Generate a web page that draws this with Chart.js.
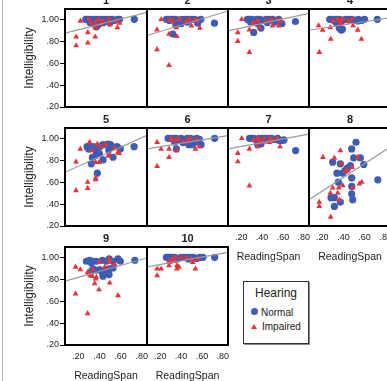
<!DOCTYPE html>
<html>
<head>
<meta charset="utf-8">
<script src="https://cdn.jsdelivr.net/npm/chart.js@4.4.1/dist/chart.umd.min.js"></script>
<style>
  body { margin: 0; width: 387px; height: 381px; overflow: hidden; background: #fff; position: relative;
         font-family: "Liberation Sans", Arial, sans-serif; color: #222; }
  canvas, .txt { position: absolute; }
  .txt { white-space: nowrap; }
  .ttl { font-weight: bold; font-size: 11px; line-height: 13px; width: 40px; text-align: center; }
  .ytitle { font-size: 12px; line-height: 14px; width: 100px; text-align: center; transform: rotate(-90deg); }
  .xtitle { font-size: 10.5px; line-height: 12px; width: 80px; text-align: center; }
  #edge { position: absolute; left: 2px; top: 0; width: 1px; height: 381px; background: #b0b0b0; }
  #legend { position: absolute; left: 243px; top: 281px; width: 64px; height: 61px; border: 1px solid #333; box-shadow: 1px 1px 0 #888; }
  #legend div, #legend span { position: absolute; }
</style>
</head>
<body>
<div id="edge"></div>
<div id="legend">
  <div style="left:0;right:0;top:4px;text-align:center;font-size:12px;line-height:14px">Hearing</div>
  <span style="left:7px;top:26px;width:7px;height:7px;border-radius:50%;background:#3d5cb4"></span>
  <div style="left:17px;top:25px;font-size:10px;line-height:12px">Normal</div>
  <span style="left:7px;top:42px;width:0;height:0;border-left:3px solid transparent;border-right:3px solid transparent;border-bottom:5px solid #e8333d"></span>
  <div style="left:18px;top:39px;font-size:10px;line-height:12px">Impaired</div>
</div>
<script>
const panelNames = ['1', '2', '3', '4', '5', '6', '7', '8', '9', '10'];
const xTicks = [0.2, 0.4, 0.6, 0.8];
const yTicks = [0.2, 0.4, 0.6, 0.8, 1.0];

// Hearing = Normal, [ReadingSpan, Intelligibility] per panel
const normal = [
  [[0.27,1.00],[0.29,1.00],[0.31,1.00],[0.33,0.99],[0.35,1.00],[0.38,1.00],[0.40,0.99],[0.42,1.00],[0.45,1.00],[0.47,0.99],[0.49,1.00],[0.52,1.00],[0.54,0.99],[0.57,1.00],[0.59,1.00],[0.73,1.00],[0.34,0.96],[0.37,0.93],[0.39,0.95],[0.31,0.97],[0.44,0.97],[0.50,0.97]],
  [[0.26,1.00],[0.28,1.00],[0.30,1.00],[0.32,1.00],[0.35,1.00],[0.38,0.99],[0.41,1.00],[0.44,1.00],[0.47,1.00],[0.50,1.00],[0.53,1.00],[0.56,0.99],[0.59,1.00],[0.72,0.965],[0.56,0.965],[0.32,0.865],[0.35,0.95],[0.29,0.99],[0.36,0.985],[0.40,0.96],[0.46,0.975]],
  [[0.26,1.00],[0.28,1.00],[0.30,1.00],[0.32,0.99],[0.35,1.00],[0.38,1.00],[0.41,0.99],[0.44,1.00],[0.47,1.00],[0.50,1.00],[0.53,0.99],[0.56,1.00],[0.59,0.96],[0.72,0.98],[0.32,0.88],[0.39,0.92],[0.36,0.96],[0.45,0.97],[0.52,0.975],[0.29,0.975]],
  [[0.27,1.00],[0.29,1.00],[0.31,0.99],[0.33,1.00],[0.36,1.00],[0.39,0.99],[0.42,1.00],[0.45,1.00],[0.48,1.00],[0.51,0.99],[0.54,1.00],[0.57,0.99],[0.60,1.00],[0.72,1.00],[0.36,0.92],[0.38,0.90],[0.39,0.91],[0.535,0.985],[0.447,0.994],[0.33,0.97]],
  [[0.282,0.924],[0.31,0.93],[0.345,0.924],[0.371,0.888],[0.377,0.864],[0.333,0.827],[0.323,0.767],[0.364,0.842],[0.434,0.803],[0.434,0.942],[0.481,0.948],[0.504,0.942],[0.52,0.924],[0.529,0.827],[0.567,0.924],[0.598,0.903],[0.488,0.894],[0.728,0.924],[0.38,0.682],[0.402,0.924],[0.30,0.90],[0.40,0.86]],
  [[0.276,1.00],[0.29,1.00],[0.31,0.995],[0.33,1.00],[0.35,1.00],[0.37,0.99],[0.40,1.00],[0.43,0.99],[0.46,1.00],[0.49,1.00],[0.52,0.99],[0.55,1.00],[0.576,0.99],[0.722,1.00],[0.355,0.903],[0.475,0.942],[0.507,0.942],[0.592,0.942],[0.545,0.964],[0.339,0.964],[0.386,0.985],[0.42,0.96]],
  [[0.28,1.00],[0.30,1.00],[0.32,1.00],[0.34,0.99],[0.37,1.00],[0.40,1.00],[0.43,1.00],[0.46,1.00],[0.49,1.00],[0.52,0.99],[0.55,1.00],[0.58,0.98],[0.61,0.985],[0.722,0.888],[0.358,0.942],[0.39,0.948],[0.564,0.979],[0.595,0.979],[0.36,0.985],[0.42,0.985]],
  [[0.519,0.964],[0.478,0.903],[0.497,0.821],[0.56,0.821],[0.592,0.761],[0.298,0.782],[0.371,0.767],[0.339,0.682],[0.393,0.682],[0.415,0.706],[0.44,0.73],[0.466,0.752],[0.352,0.60],[0.478,0.561],[0.478,0.639],[0.725,0.621],[0.282,0.458],[0.314,0.458],[0.371,0.418],[0.314,0.379],[0.478,0.494],[0.488,0.44],[0.43,0.72]],
  [[0.307,0.973],[0.276,0.964],[0.339,0.964],[0.323,0.95],[0.428,0.973],[0.466,0.964],[0.491,0.985],[0.529,0.964],[0.576,0.985],[0.598,0.964],[0.735,0.973],[0.371,0.964],[0.339,0.894],[0.323,0.873],[0.371,0.882],[0.402,0.888],[0.428,0.858],[0.466,0.888],[0.491,0.894],[0.529,0.903],[0.491,0.842],[0.434,0.827]],
  [[0.26,1.00],[0.28,1.00],[0.30,1.00],[0.32,1.00],[0.34,1.00],[0.37,0.99],[0.40,1.00],[0.43,1.00],[0.46,1.00],[0.49,1.00],[0.52,1.00],[0.55,0.99],[0.58,1.00],[0.61,1.00],[0.722,1.00],[0.30,0.98],[0.36,0.985],[0.47,0.985]]
];

// Hearing = Impaired
const impaired = [
  [[0.22,0.985],[0.30,1.00],[0.39,1.00],[0.49,1.00],[0.32,0.965],[0.36,0.925],[0.43,0.985],[0.50,0.95],[0.55,0.985],[0.57,0.925],[0.59,0.965],[0.29,0.88],[0.18,0.84],[0.36,0.84],[0.18,0.76],[0.29,0.785],[0.36,0.97],[0.41,0.95]],
  [[0.21,1.00],[0.17,0.905],[0.29,0.995],[0.32,0.985],[0.38,1.00],[0.39,1.00],[0.45,0.985],[0.48,1.00],[0.50,0.94],[0.54,1.00],[0.55,0.985],[0.58,0.92],[0.355,0.925],[0.285,0.865],[0.36,0.845],[0.17,0.725],[0.285,0.58]],
  [[0.206,1.00],[0.168,0.88],[0.168,0.80],[0.279,0.70],[0.279,0.905],[0.31,0.965],[0.358,0.985],[0.374,0.925],[0.437,0.985],[0.485,1.00],[0.50,0.94],[0.548,1.00],[0.557,0.94],[0.58,0.985],[0.32,0.965]],
  [[0.165,0.942],[0.203,0.903],[0.172,0.70],[0.28,0.82],[0.276,0.924],[0.298,0.985],[0.345,1.00],[0.371,0.985],[0.393,1.00],[0.447,0.98],[0.481,1.00],[0.491,0.942],[0.535,0.903],[0.57,0.82],[0.377,0.964]],
  [[0.307,0.964],[0.38,0.948],[0.219,0.903],[0.329,0.888],[0.459,0.942],[0.418,0.924],[0.497,0.852],[0.545,0.912],[0.576,0.873],[0.586,0.864],[0.178,0.785],[0.364,0.782],[0.396,0.782],[0.364,0.639],[0.364,0.624],[0.288,0.60],[0.288,0.545],[0.178,0.524],[0.481,0.84]],
  [[0.171,0.964],[0.209,0.903],[0.285,0.903],[0.285,0.827],[0.171,0.745],[0.301,0.994],[0.323,0.985],[0.361,0.985],[0.371,1.00],[0.466,0.985],[0.488,1.00],[0.551,0.985],[0.538,0.903],[0.576,0.924],[0.355,0.888],[0.418,0.964]],
  [[0.206,1.00],[0.168,0.864],[0.168,0.788],[0.279,0.567],[0.279,0.903],[0.32,0.985],[0.358,1.00],[0.374,0.985],[0.396,0.964],[0.421,1.00],[0.478,1.00],[0.50,0.979],[0.548,1.00],[0.573,0.924],[0.358,0.924],[0.469,0.964]],
  [[0.206,0.827],[0.314,0.821],[0.371,0.888],[0.383,0.767],[0.481,0.736],[0.535,0.827],[0.551,0.585],[0.573,0.60],[0.488,0.548],[0.393,0.57],[0.355,0.548],[0.345,0.50],[0.298,0.548],[0.276,0.50],[0.361,0.439],[0.171,0.418],[0.171,0.379],[0.279,0.282],[0.44,0.706],[0.42,0.70]],
  [[0.174,0.912],[0.219,0.888],[0.288,0.864],[0.314,0.833],[0.333,0.827],[0.339,0.888],[0.364,0.803],[0.355,0.761],[0.396,0.706],[0.402,0.955],[0.45,0.912],[0.491,0.985],[0.497,0.958],[0.545,0.933],[0.497,0.767],[0.174,0.667],[0.288,0.488],[0.576,0.652],[0.371,0.82],[0.30,0.85]],
  [[0.171,0.894],[0.209,0.894],[0.171,0.833],[0.285,0.924],[0.292,0.955],[0.317,0.985],[0.348,1.00],[0.361,0.924],[0.402,1.00],[0.45,1.00],[0.497,0.985],[0.513,0.955],[0.538,0.894],[0.339,0.964],[0.38,0.912],[0.361,0.894],[0.285,0.964],[0.56,0.985]]
];

// fit line: Intelligibility at the left and right edge of each panel
const fitStart = [0.873, 0.852, 0.894, 0.90, 0.69, 0.903, 0.903, 0.44, 0.782, 0.912];
const fitEnd   = [1.064, 1.076, 1.055, 1.015, 1.027, 1.024, 1.039, 0.925, 0.994, 1.045];

const XMIN = 0.074, XMAX = 0.85, YMIN = 0.2, YMAX = 1.094;
const colLeft = [65, 147, 228, 309];
const colW = [82, 81, 81, 82];
const rowTop = [9, 128, 247];
const PH = 98;
const L = 45, T = 10, R = 10, B = 20;
const FONT = '"Liberation Sans", Arial, sans-serif';

const fmt = v => { const s = v.toFixed(2); return s[0] === '0' ? s.slice(1) : s; };

const frame = {
  id: 'frame',
  afterDatasetsDraw(chart) {
    const a = chart.chartArea, ctx = chart.ctx;
    ctx.save();
    ctx.strokeStyle = '#000';
    ctx.lineWidth = 2;
    ctx.strokeRect(a.left, a.top, a.right - a.left, a.bottom - a.top);
    ctx.restore();
  }
};

function addText(cls, text, left, top) {
  const d = document.createElement('div');
  d.className = 'txt ' + cls;
  d.textContent = text;
  d.style.left = left + 'px';
  d.style.top = top + 'px';
  document.body.appendChild(d);
}

panelNames.forEach((name, i) => {
  const row = Math.floor(i / 4), col = i % 4;
  const isLeft = col === 0;
  const isBottom = i >= 6;
  const pw = colW[col];

  const cv = document.createElement('canvas');
  cv.width = L + pw + R;
  cv.height = T + PH + B;
  cv.style.left = (colLeft[col] - L) + 'px';
  cv.style.top = (rowTop[row] - T) + 'px';
  document.body.appendChild(cv);

  new Chart(cv, {
    type: 'scatter',
    data: {
      datasets: [
        {
          type: 'line',
          data: [{x: XMIN, y: fitStart[i]}, {x: XMAX, y: fitEnd[i]}],
          borderColor: '#9a9a9a', borderWidth: 1.2, pointRadius: 0, order: 0
        },
        {
          label: 'Impaired',
          data: impaired[i].map(p => ({x: p[0], y: p[1]})),
          pointStyle: 'triangle', pointRadius: 3.4, pointBorderWidth: 0,
          backgroundColor: '#e8333d', order: 1
        },
        {
          label: 'Normal',
          data: normal[i].map(p => ({x: p[0], y: p[1]})),
          pointStyle: 'circle', pointRadius: 3.6, pointBorderWidth: 0,
          backgroundColor: '#3d5cb4', order: 2
        }
      ]
    },
    options: {
      responsive: false,
      animation: false,
      events: [],
      layout: { padding: { left: 0, top: T, right: R, bottom: 0 } },
      plugins: { legend: { display: false }, tooltip: { enabled: false } },
      scales: {
        x: {
          type: 'linear', min: XMIN, max: XMAX,
          afterBuildTicks: s => { s.ticks = xTicks.map(v => ({value: v})); },
          afterFit: s => { s.height = B; },
          grid: { display: false, drawTicks: false },
          border: { display: false },
          ticks: { display: isBottom, padding: 6, maxRotation: 0, autoSkip: false,
                   color: '#222', font: { size: 9, family: FONT }, callback: v => fmt(v) }
        },
        y: {
          type: 'linear', min: YMIN, max: YMAX,
          afterBuildTicks: s => { s.ticks = yTicks.map(v => ({value: v})); },
          afterFit: s => { s.width = L; },
          grid: { display: isLeft, drawOnChartArea: false, drawTicks: true, tickLength: 5, color: '#000' },
          border: { display: false },
          ticks: { display: isLeft, padding: 1, autoSkip: false,
                   color: '#222', font: { size: 9, family: FONT }, callback: v => fmt(v) }
        }
      }
    },
    plugins: [frame]
  });

  addText('ttl', name, colLeft[col] + pw / 2 - 20, rowTop[row] - 15);
  if (isLeft) addText('ytitle', 'Intelligibility', 29 - 50, rowTop[row] + PH / 2 - 7);
  if (isBottom) addText('xtitle', 'ReadingSpan', colLeft[col] + pw / 2 - 40, rowTop[row] + PH + 24);
});
</script>
</body>
</html>
